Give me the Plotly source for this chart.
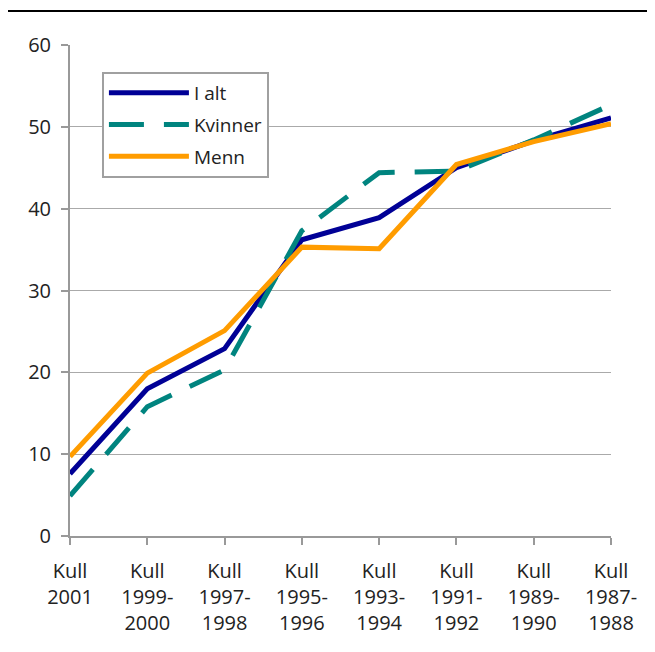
import plotly.graph_objects as go

categories = ["Kull<br>2001", "Kull<br>1999-<br>2000", "Kull<br>1997-<br>1998", "Kull<br>1995-<br>1996",
              "Kull<br>1993-<br>1994", "Kull<br>1991-<br>1992", "Kull<br>1989-<br>1990", "Kull<br>1987-<br>1988"]
i_alt = [7.6, 18.0, 22.9, 36.2, 38.9, 45.0, 48.3, 51.1]
kvinner = [4.9, 15.8, 20.3, 37.3, 44.4, 44.6, 48.4, 52.7]
menn = [9.7, 19.9, 25.1, 35.3, 35.1, 45.4, 48.2, 50.4]

FONT = "Open Sans"
x = list(range(len(categories)))

fig = go.Figure()
fig.add_trace(go.Scatter(x=x, y=i_alt, name="I alt", mode="lines", legendgroup="a",
                         line=dict(color="#000096", width=5)))
fig.add_trace(go.Scatter(x=x, y=kvinner, name="Kvinner", mode="lines", legendgroup="b",
                         line=dict(color="#00847F", width=5, dash="35px,20px")))
fig.add_trace(go.Scatter(x=x, y=menn, name="Menn", mode="lines", legendgroup="c",
                         line=dict(color="#FF9C00", width=5)))

fig.update_layout(
    width=647, height=644,
    margin=dict(l=62, r=44, t=37, b=116),
    plot_bgcolor="white", paper_bgcolor="white",
    font=dict(family=FONT, size=20, color="#222222"),
    showlegend=True,
    legend=dict(x=0.059, y=0.945, xanchor="left", yanchor="top",
                bgcolor="white", bordercolor="#A0A0A0", borderwidth=2,
                font=dict(size=19), itemwidth=80, traceorder="grouped", tracegroupgap=4),
    xaxis=dict(range=[0, 7], tickvals=x, ticktext=categories, showgrid=False,
               showline=True, linecolor="#999999", linewidth=2,
               ticks="outside", ticklen=7, tickcolor="#999999", tickwidth=2,
               ticklabelstandoff=9,
               zeroline=False, fixedrange=True),
    yaxis=dict(range=[0, 60], tickvals=[0, 10, 20, 30, 40, 50, 60],
               showgrid=True, gridcolor="#AAAAAA", gridwidth=1,
               showline=True, linecolor="#999999", linewidth=2,
               ticks="outside", ticklen=7, tickcolor="#999999", tickwidth=2,
               ticklabelstandoff=6,
               zeroline=False),
    shapes=[dict(type="line", xref="paper", yref="paper",
                 x0=-0.12, x1=1.09, y0=1.069, y1=1.069,
                 line=dict(color="black", width=2))],
)

fig.write_html("out.html")
